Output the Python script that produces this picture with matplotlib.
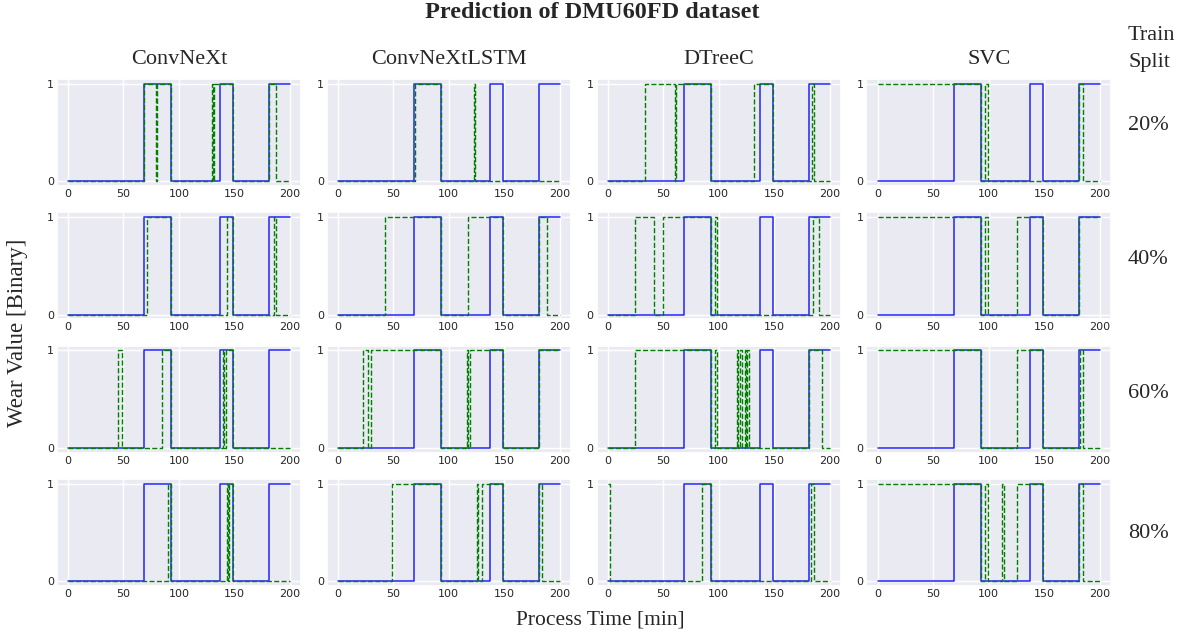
import matplotlib
matplotlib.use("Agg")
import matplotlib.pyplot as plt
import seaborn as sns
import numpy as np

sns.set_theme(style="darkgrid")
plt.rcParams['font.family'] = ['DejaVu Sans']

models = ["ConvNeXt", "ConvNeXtLSTM", "DTreeC", "SVC"]
splits = ["20%", "40%", "60%", "80%"]
t_start, t_end = 0, 200
xticks = [0, 50, 100, 150, 200]
yticks = [0, 1]

# Ground truth: intervals (start, end) where wear == 1
truth_on = [(69, 93), (137, 149), (181, 200)]

# Predicted wear == 1 intervals, per split (row) and model (column)
pred_20_convnext = [(69, 79), (80, 93), (129.5, 130.5), (131.5, 149), (181, 187)]
pred_20_lstm = [(70, 93), (123, 124)]
pred_20_dtree = [(34, 61), (61.5, 93), (132, 149), (184, 186)]
pred_20_svc = [(0, 93), (97, 99), (181, 185)]

pred_40_convnext = [(71, 93), (143.5, 149), (186, 187)]
pred_40_lstm = [(43, 93), (117, 149), (181, 188)]
pred_40_dtree = [(25, 42), (50, 93), (97, 98.5), (185, 190)]
pred_40_svc = [(0, 93), (97, 99), (125, 149), (181, 200)]

pred_60_convnext = [(45, 49), (85, 93), (139.5, 141), (142, 149)]
pred_60_lstm = [(23, 27), (30, 93), (116.5, 117.5), (119, 149), (181, 200)]
pred_60_dtree = [(25, 93), (97, 98), (116.5, 117.5), (119, 120.5), (124, 124.8),
                 (125.5, 126.8), (181, 193)]
pred_60_svc = [(0, 93), (125, 149), (182, 185)]

pred_80_convnext = [(90, 93), (143, 144), (145, 149)]
pred_80_lstm = [(49, 93), (125, 126), (130, 149), (181, 184)]
pred_80_dtree = [(0, 2.5), (85, 93), (183, 186)]
pred_80_svc = [(0, 93), (97, 99), (112, 114), (125, 149), (181, 185)]

predictions = [
    [pred_20_convnext, pred_20_lstm, pred_20_dtree, pred_20_svc],
    [pred_40_convnext, pred_40_lstm, pred_40_dtree, pred_40_svc],
    [pred_60_convnext, pred_60_lstm, pred_60_dtree, pred_60_svc],
    [pred_80_convnext, pred_80_lstm, pred_80_dtree, pred_80_svc],
]


def to_step(intervals):
    xs, ys = [t_start], [0]
    cur = 0
    for a, b in intervals:
        if a <= t_start:
            ys[0] = 1
            cur = 1
        else:
            xs += [a, a]
            ys += [cur, 1]
            cur = 1
        if b < t_end:
            xs += [b, b]
            ys += [1, 0]
            cur = 0
    xs.append(t_end)
    ys.append(cur)
    return np.array(xs), np.array(ys)


W, H = 1185, 639
fig = plt.figure(figsize=(W / 100, H / 100), dpi=100)
gs = fig.add_gridspec(4, 4, left=56.6 / W, right=1111 / W, top=1 - 79 / H,
                      bottom=1 - 586 / H, wspace=0.104, hspace=0.243)

serif = ['Liberation Serif', 'DejaVu Serif']
label_y = [125, 260, 393, 534]
tx, ty = to_step(truth_on)
for r in range(4):
    for c in range(4):
        ax = fig.add_subplot(gs[r, c])
        ax.plot(tx, ty, color='blue', lw=1.1, alpha=0.85)
        px, py = to_step(predictions[r][c])
        ax.plot(px, py, color='green', ls='--', lw=1.0)
        ax.set_xticks(xticks)
        ax.set_yticks(yticks)
        ax.tick_params(labelsize=8, colors='0.15', length=0, pad=2)
        if r == 0:
            ax.set_title(models[c], fontsize=16, family=serif, pad=11)
        if c == 3:
            fig.text(1128 / W, 1 - label_y[r] / H, splits[r], fontsize=16,
                     family=serif, va='center', ha='left')

fig.text(0.5, 1 - 12 / H, "Prediction of DMU60FD dataset", fontsize=17.5,
         fontweight='bold', family=serif, ha='center', va='center')
fig.text(1128 / W, 1 - 49 / H, "Train\nSplit", fontsize=16, family=serif,
         ha='left', va='center', linespacing=1.6)
fig.text(600 / W, 1 - 620 / H, "Process Time [min]", fontsize=15.5, family=serif,
         ha='center', va='center')
fig.text(18 / W, 1 - 333 / H, "Wear Value [Binary]", fontsize=16.5, family=serif,
         ha='center', va='center', rotation=90)

fig.savefig("out.png", dpi=100)
